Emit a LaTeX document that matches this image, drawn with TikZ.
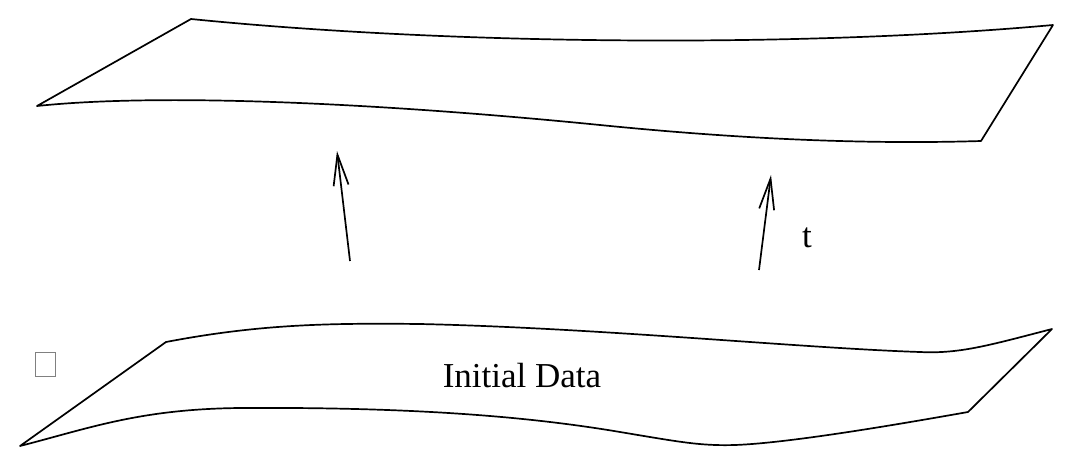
\documentclass[tikz,border=0pt]{standalone}
\usepackage{fontspec}
\setmainfont{Liberation Serif}
\usetikzlibrary{arrows.meta}
\tikzset{
    sheet/.style={line width=1.7pt, line join=round},
    flow/.style={line width=1.7pt, -{Straight Barb[length=31pt,width=15pt]}},
    lab/.style={anchor=base, font=\fontsize{35}{42}\selectfont}
}
\begin{document}
\begin{tikzpicture}[x=1pt,y=-1pt]
    \useasboundingbox (0,0) rectangle (1073,469);
    % upper sheet
    \coordinate (A) at (191,19);
    \coordinate (B) at (1053,25);
    \coordinate (C) at (981,141);
    \coordinate (D) at (37,106);
    \draw[sheet] (A)..controls (450,45) and (800,48) .. (B) -- (C)
        ..controls (850,145) and (720,137) .. (600,125)
        ..controls (400,105) and (170,92) .. (D) -- cycle;
    % lower sheet
    \coordinate (E) at (166,342);
    \coordinate (F) at (1052,329);
    \coordinate (G) at (968,412);
    \coordinate (H) at (20,446);
    \draw[sheet] (E)..controls (260,324) and (330,323) .. (420,324)
        ..controls (600,328) and (800,348) .. (920,352)
        ..controls (960,354) and (990,345) .. (F) -- (G)
        ..controls (900,424) and (790,443) .. (735,445)
        ..controls (700,446) and (680,442) .. (620,432)
        ..controls (520,415) and (400,407) .. (240,408)
        ..controls (140,409) and (90,428) .. (H) -- cycle;
    % arrows
    \coordinate (L0) at (350,261);
    \coordinate (L1) at (337,151);
    \coordinate (R0) at (759,270);
    \coordinate (R1) at (771,175);
    \draw[flow] (L0) -- (L1);
    \draw[flow] (R0) -- (R1);
    \node[lab] (tlab) at (807,247) {t};
    \node[lab] (init) at (522,387) {Initial Data};
    \node[draw=gray, line width=0.8pt, minimum width=20pt, minimum height=24pt, inner sep=0pt] (box) at (45,364) {};
\end{tikzpicture}
\end{document}
